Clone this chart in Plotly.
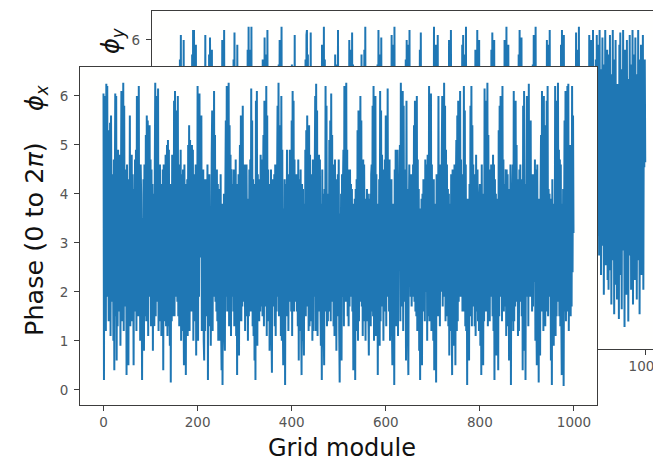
import plotly.graph_objects as go

# Phase of each grid module (radians, 0 to 2*pi)
phi_x = [
    6.05, 0.2, 6.0, 1.6, 5.95, 1.2, 6.25, 2.4, 6.2, 1.9, 4.6, 1.4, 5.3, 1.7, 5.45, 1.1, 5.6, 3.4, 4.4, 1.8,
    4.1, 1.0, 4.7, 0.4, 3.9, 6.05, 1.5, 6.0, 0.6, 4.4, 1.3, 4.9, 2.2, 4.3, 1.6, 4.8, 0.9, 3.7, 6.1, 1.4,
    5.7, 1.9, 6.27, 1.2, 5.8, 2.5, 4.5, 1.7, 4.2, 0.3, 4.6, 1.1, 3.8, 0.5, 4.3, 1.6, 5.6, 1.3, 4.5, 2.0,
    4.8, 1.4, 4.4, 2.9, 0.5, 4.1, 1.8, 4.7, 1.6, 4.9, 1.2, 6.0, 1.9, 5.9, 1.5, 6.2, 1.8, 4.4, 1.0, 4.6,
    4.0, 2.3, 0.2, 3.5, 1.2, 4.3, 0.8, 4.6, 1.5, 2.0, 5.2, 1.4, 5.6, 1.9, 5.5, 1.1, 5.3, 1.9, 5.4, 2.2,
    4.7, 1.3, 4.5, 1.5, 4.2, 0.8, 4.0, 2.9, 1.3, 4.4, 6.27, 1.5, 6.0, 1.8, 5.5, 2.0, 6.15, 1.2, 4.6, 1.7,
    4.6, 1.4, 3.9, 1.1, 4.2, 1.8, 4.5, 0.4, 4.6, 1.4, 4.0, 1.7, 4.8, 1.3, 3.6, 5.0, 1.1, 5.1, 1.3, 4.9,
    2.0, 0.9, 4.2, 0.15, 3.7, 1.4, 4.8, 1.5, 4.1, 1.8, 5.9, 1.5, 6.1, 2.2, 5.7, 1.9, 4.6, 1.8, 6.0, 1.5,
    4.4, 1.3, 4.6, 2.1, 4.9, 1.0, 4.4, 1.7, 1.2, 4.5, 1.9, 0.5, 4.6, 1.0, 4.2, 0.3, 3.7, 1.6, 4.3, 1.1,
    5.0, 1.6, 5.4, 1.2, 5.1, 1.7, 4.7, 1.6, 5.0, 2.3, 4.9, 1.0, 4.4, 1.4, 4.1, 1.8, 4.6, 0.7, 4.5, 1.4,
    6.2, 1.0, 5.8, 1.9, 6.05, 2.7, 4.1, 3.4, 5.6, 1.2, 3.7, 1.3, 4.5, 1.0, 0.6, 4.3, 1.2, 4.3, 1.5, 3.8,
    1.9, 4.6, 0.2, 4.1, 1.8, 4.4, 1.3, 3.6, 0.9, 2.6, 4.8, 5.7, 1.2, 5.3, 2.1, 6.1, 1.9, 5.2, 1.8, 4.5,
    1.6, 4.5, 1.4, 4.2, 1.0, 3.8, 2.7, 4.1, 1.0, 4.4, 1.3, 0.4, 3.8, 0.1, 3.6, 1.2, 4.0, 1.2, 0.8, 4.1,
    5.5, 1.9, 6.2, 1.6, 5.9, 1.7, 6.27, 1.3, 5.4, 2.5, 4.8, 1.1, 4.5, 3.0, 1.9, 4.2, 1.6, 4.5, 1.3, 4.0,
    1.3, 4.7, 1.1, 3.9, 0.3, 4.2, 2.0, 4.4, 0.7, 3.8, 5.0, 1.4, 5.6, 1.4, 4.9, 1.7, 5.8, 1.8, 4.6, 3.0,
    4.1, 1.2, 4.6, 1.5, 4.6, 2.9, 3.3, 1.0, 3.9, 1.5, 4.5, 1.6, 4.7, 2.0, 6.15, 1.6, 5.5, 1.3, 4.3, 1.1,
    4.2, 0.6, 3.7, 0.2, 5.9, 1.9, 6.1, 0.9, 4.4, 1.8, 4.0, 1.4, 4.3, 1.6, 4.8, 1.7, 4.7, 3.1, 1.5, 4.0,
    5.2, 1.3, 5.9, 1.7, 4.4, 2.0, 6.2, 1.1, 5.6, 1.4, 4.5, 1.6, 4.2, 0.8, 4.0, 1.6, 4.5, 1.2, 0.35, 4.3,
    1.8, 4.0, 1.7, 4.4, 1.3, 4.6, 1.1, 3.9, 1.6, 4.3, 5.8, 1.9, 6.27, 1.5, 5.4, 2.1, 5.0, 1.1, 6.0, 1.0,
    4.9, 1.6, 0.5, 3.7, 1.2, 4.3, 0.1, 3.4, 4.2, 1.5, 4.9, 1.5, 4.4, 1.2, 3.8, 1.8, 4.9, 2.7, 4.1, 1.6,
    5.5, 1.1, 6.1, 2.2, 5.9, 1.6, 4.7, 1.9, 4.2, 1.8, 4.4, 1.6, 4.0, 1.3, 4.7, 0.6, 3.9, 4.3, 1.2, 4.5,
    1.6, 0.3, 4.2, 1.0, 4.1, 1.4, 0.7, 3.8, 1.8, 4.9, 1.5, 5.3, 1.7, 5.6, 1.9, 5.0, 1.2, 5.4, 1.3, 4.8,
    1.6, 4.1, 1.4, 4.4, 1.0, 4.7, 1.2, 4.2, 1.9, 4.4, 6.0, 1.2, 6.25, 2.0, 5.7, 1.1, 4.1, 1.6, 4.8, 1.7,
    4.7, 1.9, 0.9, 3.8, 0.2, 4.5, 1.3, 4.0, 1.2, 0.5, 4.1, 1.6, 6.2, 1.8, 5.8, 1.3, 3.9, 1.4, 4.0, 1.7,
    5.1, 1.6, 5.5, 1.4, 6.05, 1.8, 5.2, 1.9, 4.6, 1.3, 4.0, 1.1, 4.7, 1.5, 4.1, 0.8, 4.3, 2.0, 4.4, 1.5,
    4.7, 1.2, 0.15, 3.6, 1.9, 4.0, 0.6, 4.4, 1.9, 4.2, 4.9, 1.3, 6.2, 1.8, 5.6, 1.8, 6.27, 2.1, 4.9, 1.5,
    4.0, 1.3, 4.5, 1.7, 4.5, 1.9, 4.2, 2.0, 4.1, 1.6, 3.6, 0.4, 3.8, 1.3, 3.9, 0.2, 4.1, 1.6, 4.3, 1.2,
    5.3, 1.0, 5.7, 1.4, 5.0, 1.8, 6.0, 1.9, 5.5, 1.7, 4.2, 1.1, 4.7, 1.4, 4.6, 2.8, 3.3, 1.0, 3.9, 1.5,
    4.1, 1.4, 4.0, 1.6, 0.7, 3.9, 1.5, 4.0, 1.3, 4.4, 4.6, 1.6, 5.8, 1.5, 6.2, 1.0, 5.4, 2.2, 6.0, 1.1,
    4.4, 1.1, 3.8, 0.3, 3.6, 1.7, 4.3, 0.9, 6.1, 1.4, 5.7, 1.7, 4.8, 1.9, 4.1, 1.0, 4.5, 2.3, 4.7, 1.6,
    5.6, 1.3, 5.2, 2.1, 6.15, 1.9, 4.4, 1.6, 4.7, 1.0, 4.2, 1.4, 4.3, 1.4, 0.5, 3.8, 1.9, 3.7, 0.1, 4.5,
    1.3, 4.9, 1.6, 4.7, 1.3, 4.9, 1.1, 4.2, 2.7, 4.0, 5.0, 1.4, 6.27, 1.7, 5.5, 2.0, 6.1, 1.2, 5.8, 1.9,
    4.4, 1.8, 4.5, 0.6, 5.9, 1.4, 4.1, 1.2, 0.3, 3.5, 4.6, 2.1, 3.8, 1.9, 4.4, 1.7, 4.3, 1.9, 4.6, 2.9,
    5.4, 1.8, 5.9, 1.6, 5.1, 1.5, 6.0, 1.2, 4.7, 1.4, 4.1, 0.8, 3.6, 0.2, 3.7, 1.9, 3.9, 0.5, 4.0, 1.6,
    4.3, 1.9, 4.2, 1.4, 4.7, 3.5, 2.0, 4.6, 1.0, 4.8, 4.7, 1.5, 6.2, 1.4, 5.3, 2.1, 6.05, 1.2, 4.6, 1.6,
    4.2, 1.0, 4.3, 0.4, 3.8, 1.6, 3.6, 0.15, 4.4, 1.9, 4.0, 1.5, 6.0, 1.8, 4.4, 1.3, 4.6, 3.2, 2.0, 4.8,
    6.0, 1.7, 5.5, 1.9, 6.27, 2.0, 5.8, 1.4, 4.9, 1.5, 4.6, 1.7, 4.1, 1.3, 4.0, 0.7, 3.8, 2.8, 1.2, 4.4,
    1.9, 0.3, 4.5, 1.5, 4.2, 0.9, 4.6, 3.7, 0.5, 4.2, 5.1, 1.2, 5.6, 1.4, 5.9, 1.8, 5.3, 1.9, 6.1, 1.9,
    4.7, 2.0, 4.4, 1.6, 4.1, 1.6, 6.2, 1.8, 5.7, 1.3, 4.6, 1.2, 3.4, 0.1, 3.9, 1.1, 3.8, 0.6, 4.2, 1.5,
    5.8, 1.5, 6.2, 1.3, 5.4, 2.0, 4.6, 1.7, 4.3, 1.3, 4.4, 1.1, 4.8, 1.6, 2.9, 4.5, 1.4, 4.0, 1.2, 3.9,
    4.2, 0.9, 3.7, 0.3, 4.6, 1.7, 4.0, 0.5, 3.5, 1.4, 6.15, 1.8, 5.5, 1.6, 5.9, 2.1, 6.27, 1.3, 5.2, 1.6,
    4.1, 1.4, 4.5, 1.9, 4.6, 2.9, 3.1, 1.5, 4.8, 1.2, 4.6, 0.2, 4.3, 1.2, 4.0, 0.7, 3.9, 1.8, 3.6, 0.4,
    5.3, 1.5, 5.8, 1.9, 6.0, 2.0, 5.1, 1.4, 6.2, 1.8, 4.7, 1.6, 4.2, 1.7, 3.0, 4.5, 1.1, 4.5, 1.3, 4.4,
    1.3, 3.8, 0.6, 4.1, 1.9, 4.6, 0.1, 3.4, 1.4, 4.0, 4.6, 1.2, 6.1, 1.4, 5.4, 1.7, 5.9, 1.8, 5.0, 2.0,
    3.9, 1.1, 4.3, 1.2, 4.5, 1.8, 4.6, 2.0, 4.3, 1.5, 4.0, 0.4, 5.8, 1.5, 6.1, 0.8, 4.2, 0.2, 3.7, 4.1,
    6.0, 1.9, 5.7, 1.3, 6.25, 2.3, 4.8, 1.9, 5.5, 1.9, 4.0, 1.6, 4.4, 1.7, 4.4, 3.1, 2.2, 4.7, 1.0, 4.5,
    1.8, 0.5, 4.6, 1.3, 3.5, 0.15, 3.9, 2.1, 0.7, 4.0, 5.2, 1.6, 6.1, 1.7, 5.8, 1.2, 6.0, 1.4, 5.4, 1.3,
    4.2, 1.8, 5.9, 1.6, 6.2, 1.5, 4.1, 2.3, 4.0, 1.9, 3.5, 0.6, 3.9, 0.1, 4.3, 1.4, 3.6, 0.9, 3.8, 2.0,
    6.2, 1.1, 5.6, 1.5, 5.9, 1.8, 6.27, 2.2, 4.9, 1.5, 4.7, 1.3, 4.6, 1.6, 0.3, 3.8, 1.9, 4.1, 0.08, 3.2,
    5.5, 1.6, 6.1, 1.4, 5.8, 2.0, 6.2, 1.6, 6.25, 1.2, 4.0, 2.2, 5.0, 1.5, 4.6, 1.7, 6.2, 2.4, 5.6, 3.2,
]

phi_y = [
    3.0, 1.4, 4.8, 1.2, 4.4, 0.7, 4.9, 1.6, 4.1, 1.9, 5.6, 1.7, 6.1, 1.3, 5.4, 2.0, 4.9, 1.8, 6.0, 1.5,
    4.2, 0.5, 4.4, 1.6, 4.0, 2.8, 0.2, 4.1, 1.2, 3.7, 4.3, 1.4, 4.6, 1.8, 4.7, 1.0, 5.7, 1.2, 6.2, 1.5,
    6.2, 1.4, 5.5, 2.6, 5.9, 1.0, 4.6, 2.1, 4.3, 1.7, 4.5, 1.1, 3.2, 0.4, 3.8, 1.7, 3.9, 0.9, 4.3, 1.1,
    4.6, 2.0, 4.5, 1.7, 6.1, 1.5, 4.2, 1.3, 3.8, 1.9, 5.1, 1.0, 5.7, 1.2, 6.05, 1.6, 5.2, 1.9, 5.8, 1.3,
    1.8, 3.5, 0.6, 4.7, 0.1, 4.3, 1.4, 4.0, 2.5, 0.8, 4.9, 1.3, 4.6, 1.6, 4.4, 1.8, 4.1, 2.0, 4.7, 1.6,
    6.0, 1.9, 5.4, 1.7, 6.2, 2.4, 4.6, 1.1, 4.0, 3.1, 2.1, 4.8, 1.3, 4.2, 0.5, 3.6, 1.9, 4.6, 0.3, 3.9,
    4.2, 1.5, 4.5, 1.7, 5.6, 1.0, 6.15, 1.3, 4.5, 1.3, 5.3, 1.2, 5.9, 1.5, 4.8, 1.7, 4.3, 1.9, 4.5, 2.0,
    1.8, 0.9, 4.6, 0.2, 4.0, 1.8, 4.1, 1.1, 4.6, 1.4, 4.7, 2.4, 4.5, 1.9, 5.8, 1.6, 6.27, 1.1, 5.5, 1.7,
    5.8, 1.2, 6.27, 1.3, 4.5, 1.8, 4.1, 1.9, 4.2, 3.0, 2.5, 0.6, 4.3, 1.5, 3.8, 0.3, 4.7, 1.9, 4.1, 1.2,
    4.4, 2.0, 4.2, 1.7, 4.6, 1.4, 5.6, 1.4, 4.1, 1.9, 6.05, 1.6, 5.7, 1.4, 4.3, 1.1, 6.2, 1.9, 4.9, 2.0,
    1.2, 3.7, 0.8, 4.1, 1.6, 4.0, 0.15, 3.5, 4.5, 1.2, 4.4, 1.8, 4.3, 2.0, 4.7, 1.6, 2.4, 4.1, 1.8, 4.0,
    5.5, 1.7, 6.0, 1.5, 5.8, 1.9, 6.27, 1.2, 4.4, 1.6, 4.8, 1.0, 4.0, 0.4, 3.6, 1.7, 4.4, 0.7, 3.9, 1.3,
    4.1, 1.9, 4.3, 1.5, 4.5, 1.2, 4.7, 1.6, 5.5, 1.8, 4.0, 1.6, 4.6, 1.3, 6.1, 1.1, 5.3, 2.0, 4.9, 1.7,
    1.6, 0.3, 4.4, 1.3, 3.9, 0.6, 4.8, 1.9, 2.4, 4.2, 1.1, 4.0, 1.3, 4.7, 1.6, 4.6, 1.6, 5.6, 1.2, 6.1,
    6.2, 1.5, 5.7, 1.8, 4.6, 2.1, 4.4, 1.2, 6.15, 1.0, 4.7, 1.2, 3.5, 0.5, 4.0, 1.8, 4.0, 0.2, 3.8, 1.3,
    3.9, 1.3, 4.4, 1.7, 4.2, 1.8, 4.7, 2.1, 4.6, 1.5, 5.4, 1.3, 5.9, 1.6, 5.2, 1.9, 6.27, 1.2, 5.6, 1.1,
    2.0, 3.6, 0.9, 4.8, 0.4, 4.4, 1.5, 3.9, 2.3, 1.1, 4.2, 1.6, 4.5, 1.9, 4.5, 1.1, 4.4, 1.0, 4.9, 1.3,
    5.7, 1.0, 4.1, 1.4, 5.5, 1.7, 6.2, 1.8, 4.0, 1.4, 4.1, 0.7, 3.5, 0.15, 3.6, 1.4, 3.9, 0.9, 4.0, 1.2,
    4.3, 1.5, 4.7, 1.6, 4.6, 1.9, 4.2, 2.1, 4.1, 1.7, 6.0, 1.8, 5.3, 1.6, 5.8, 1.3, 6.15, 1.9, 5.5, 1.6,
    4.4, 1.3, 3.5, 0.5, 3.9, 1.9, 3.8, 0.3, 4.6, 1.2, 4.7, 1.2, 4.4, 1.0, 4.6, 1.1, 5.7, 1.4, 4.9, 1.5,
    5.2, 1.3, 5.8, 1.5, 6.27, 1.9, 4.5, 2.0, 4.0, 1.8, 3.9, 1.0, 3.6, 1.7, 4.4, 0.4, 4.3, 1.3, 4.0, 2.5,
    4.8, 1.6, 4.3, 1.9, 4.4, 1.2, 4.7, 1.8, 4.1, 1.6, 5.5, 1.4, 6.2, 1.7, 5.7, 2.1, 5.1, 1.3, 6.05, 1.9,
    2.1, 3.4, 0.7, 4.7, 1.5, 3.9, 0.2, 4.0, 1.9, 4.4, 4.0, 1.8, 4.3, 1.7, 4.6, 1.5, 4.6, 2.0, 4.2, 1.1,
    6.1, 1.7, 4.4, 1.5, 5.9, 2.2, 6.27, 1.8, 4.2, 1.0, 3.6, 0.9, 4.2, 0.3, 3.8, 1.6, 3.7, 1.1, 2.3, 3.9,
    4.4, 1.3, 4.6, 1.9, 4.1, 1.5, 4.3, 1.6, 4.5, 2.0, 5.6, 1.1, 6.0, 1.4, 5.3, 1.8, 5.9, 1.7, 6.2, 1.4,
    1.9, 3.5, 0.5, 4.9, 1.2, 3.7, 0.15, 4.5, 3.3, 1.6, 4.9, 1.2, 4.3, 1.8, 4.4, 1.8, 4.6, 1.0, 4.4, 2.0,
    5.8, 1.6, 6.15, 1.4, 4.5, 2.0, 4.0, 1.9, 5.1, 1.8, 4.0, 1.3, 3.6, 0.6, 4.7, 1.9, 3.9, 0.4, 4.2, 1.1,
    4.2, 1.7, 4.5, 1.8, 4.6, 1.4, 4.1, 1.9, 4.0, 1.2, 6.27, 1.3, 5.6, 1.5, 5.9, 1.7, 5.3, 2.0, 6.1, 1.1,
    2.5, 0.8, 4.3, 1.5, 3.8, 0.2, 3.7, 1.2, 4.4, 3.6, 4.4, 1.1, 4.4, 1.9, 4.8, 1.7, 4.2, 1.6, 4.1, 4.7,
    5.4, 1.0, 6.0, 1.3, 5.7, 1.6, 6.2, 1.8, 4.0, 1.9, 2.2, 1.0, 4.1, 0.5, 3.5, 1.8, 4.7, 0.3, 3.8, 1.4,
    4.0, 1.5, 4.4, 1.6, 4.5, 1.9, 4.7, 2.0, 4.1, 1.6, 5.9, 1.7, 6.1, 1.5, 5.2, 2.2, 5.7, 1.8, 6.27, 1.0,
    2.3, 3.6, 1.0, 4.9, 0.4, 4.3, 1.7, 3.9, 1.6, 0.8, 4.3, 1.5, 4.6, 1.9, 4.7, 1.2, 4.4, 1.0, 5.8, 1.5,
    5.6, 1.9, 6.2, 1.3, 5.5, 2.1, 6.0, 1.7, 4.3, 1.6, 3.2, 1.4, 4.7, 0.2, 3.6, 1.1, 4.5, 0.7, 3.9, 2.0,
    4.4, 1.2, 4.8, 1.7, 4.1, 1.6, 4.2, 1.4, 4.5, 1.9, 5.1, 1.4, 5.8, 1.3, 6.15, 1.0, 5.4, 1.7, 6.0, 1.6,
    2.0, 3.3, 0.6, 4.8, 1.4, 3.7, 0.3, 4.5, 3.1, 1.7, 3.9, 1.6, 4.5, 1.0, 4.3, 1.1, 4.8, 1.4, 4.7, 1.3,
    6.0, 1.4, 5.6, 1.8, 6.27, 2.0, 4.2, 1.4, 5.9, 1.7, 4.8, 0.9, 3.5, 1.6, 4.5, 0.1, 3.3, 1.3, 4.0, 2.2,
    4.1, 1.8, 4.4, 1.9, 4.6, 1.3, 4.7, 1.6, 4.3, 1.5, 5.7, 1.1, 6.2, 1.5, 5.4, 1.9, 6.05, 1.2, 5.0, 1.3,
    2.6, 0.4, 4.2, 1.1, 3.9, 0.7, 3.8, 1.8, 4.2, 1.5, 4.6, 2.1, 4.4, 1.8, 4.3, 1.6, 4.7, 1.9, 3.9, 1.4,
    5.5, 1.2, 6.1, 1.4, 5.8, 1.6, 6.27, 2.0, 4.3, 1.9, 4.0, 1.2, 3.7, 0.5, 4.6, 1.9, 4.4, 0.2, 3.9, 4.0,
    4.2, 1.5, 4.6, 2.0, 4.5, 1.8, 4.1, 1.7, 4.0, 1.3, 6.0, 1.6, 5.5, 1.5, 5.9, 2.1, 6.2, 1.8, 5.1, 1.0,
    2.3, 3.8, 0.8, 4.0, 1.5, 4.5, 0.3, 3.7, 1.9, 4.2, 4.1, 1.4, 4.7, 1.8, 4.6, 1.1, 4.6, 1.3, 4.0, 1.6,
    5.9, 1.8, 6.2, 1.4, 5.6, 2.2, 6.1, 1.9, 4.4, 1.5, 4.7, 0.6, 3.4, 1.4, 3.9, 0.2, 3.6, 1.0, 4.4, 1.9,
    4.4, 2.1, 4.6, 1.9, 4.0, 1.6, 4.3, 1.6, 4.7, 1.3, 5.3, 1.0, 6.15, 1.4, 5.8, 1.6, 5.5, 2.0, 6.27, 1.2,
    2.5, 3.4, 1.2, 4.8, 0.4, 3.6, 1.7, 4.1, 0.9, 4.2, 3.8, 1.7, 4.3, 1.9, 4.5, 1.4, 4.6, 1.0, 4.1, 1.0,
    6.1, 2.3, 5.7, 3.6, 6.0, 1.5, 5.2, 3.9, 6.2, 2.7, 3.3, 1.0, 4.1, 2.5, 5.6, 0.9, 6.1, 3.4, 5.9, 2.0,
    4.6, 1.6, 6.2, 2.8, 5.4, 1.2, 4.9, 3.1, 6.05, 1.8, 5.5, 0.8, 4.3, 2.4, 6.2, 1.4, 5.0, 3.7, 5.8, 1.1,
    3.6, 0.9, 5.7, 2.2, 6.1, 1.3, 4.5, 0.6, 5.3, 2.9, 6.2, 1.5, 4.8, 0.4, 5.6, 2.1, 6.0, 1.0, 4.2, 0.7,
    5.1, 1.9, 3.8, 0.3, 5.9, 2.6, 6.15, 1.2, 4.4, 0.5, 5.4, 1.7, 6.2, 2.3, 4.7, 0.14, 5.8, 1.4, 3.9, 0.8,
    6.0, 2.0, 5.2, 0.25, 4.6, 1.6, 6.1, 2.8, 5.5, 0.9, 4.0, 1.3, 6.2, 0.6, 5.7, 2.4, 4.9, 1.1, 6.05, 1.8,
    5.3, 0.7, 4.3, 1.5, 6.2, 2.2, 5.6, 0.4, 4.8, 1.9, 5.9, 1.2, 4.5, 2.6, 6.1, 0.9, 5.0, 3.4, 5.6, 3.5,
]

module_x = list(range(len(phi_x)))
module_y = list(range(len(phi_y)))

x_ticks = [0, 200, 400, 600, 800, 1000]
y_ticks = [0, 1, 2, 3, 4, 5, 6]

W, H = 653, 464
LINE_BLUE = "#1f77b4"
SPINE = "#3c3c3c"
TICK_FONT = dict(family="DejaVu Sans", size=13.5, color="#555555")
X_RANGE_FRONT = [-49.95, 1048.95]
X_RANGE_BACK = [-49.95, 1015.5]
Y_RANGE = [-0.31, 6.59]


def px_x(p):
    return p / W


def px_y(p):
    return 1 - p / H


fig = go.Figure()

# phi_y panel, sitting behind and up/right of the phi_x panel
fig.add_trace(go.Scatter(
    x=module_y, y=phi_y, mode="lines", xaxis="x", yaxis="y",
    line=dict(color=LINE_BLUE, width=2, simplify=False),
    hoverinfo="skip", showlegend=False,
))
# phi_x panel in front
fig.add_trace(go.Scatter(
    x=module_x, y=phi_x, mode="lines", xaxis="x2", yaxis="y2",
    line=dict(color=LINE_BLUE, width=2, simplify=False),
    hoverinfo="skip", showlegend=False,
))

axis_common = dict(
    showgrid=False, zeroline=False, showline=True, linecolor=SPINE, linewidth=1,
    ticks="outside", ticklen=5, tickwidth=1, tickcolor=SPINE,
    tickfont=TICK_FONT, fixedrange=True, automargin=False,
)

fig.update_layout(
    template="none",
    width=W, height=H, autosize=False,
    margin=dict(l=0, r=0, t=0, b=0, pad=0),
    paper_bgcolor="#ffffff", plot_bgcolor="#fffffe",
    xaxis=dict(domain=[px_x(151.7), 1.0], range=X_RANGE_BACK, anchor="y",
               tickvals=x_ticks, mirror=True, ticklabeloverflow="allow", **axis_common),
    yaxis=dict(domain=[px_y(349), px_y(11)], range=Y_RANGE, anchor="x",
               tickvals=y_ticks, mirror=False, ticklabelstandoff=3, **axis_common),
    xaxis2=dict(domain=[px_x(80), px_x(597)], range=X_RANGE_FRONT, anchor="y2",
                tickvals=x_ticks, mirror=True, **axis_common),
    yaxis2=dict(domain=[px_y(405), px_y(67)], range=Y_RANGE, anchor="x2",
                tickvals=y_ticks, mirror=True, ticklabelstandoff=3, **axis_common),
)

PHI_FONT = dict(family="DejaVu Sans", size=24, color="#111111")

fig.add_annotation(text="Grid module", x=px_x(341.5), y=0,
                   xref="paper", yref="paper", showarrow=False,
                   xanchor="center", yanchor="bottom",
                   font=dict(family="DejaVu Sans", size=24, color="#111111"))
fig.add_annotation(text="Phase (0 to 2<i>π</i>)", x=px_x(34), y=px_y(239),
                   xref="paper", yref="paper", showarrow=False, textangle=-90,
                   xanchor="center", yanchor="middle",
                   font=dict(family="DejaVu Sans", size=25.5, color="#111111"))
fig.add_annotation(text="<i>ϕ</i><sub><i>x</i></sub>", x=px_x(36), y=px_y(98),
                   xref="paper", yref="paper", showarrow=False, textangle=-90,
                   xanchor="center", yanchor="middle", font=PHI_FONT)
fig.add_annotation(text="<i>ϕ</i><sub><i>y</i></sub>", x=px_x(112), y=px_y(41),
                   xref="paper", yref="paper", showarrow=False, textangle=-90,
                   xanchor="center", yanchor="middle", font=PHI_FONT)

fig.write_html("out.html", config={"displayModeBar": False})
